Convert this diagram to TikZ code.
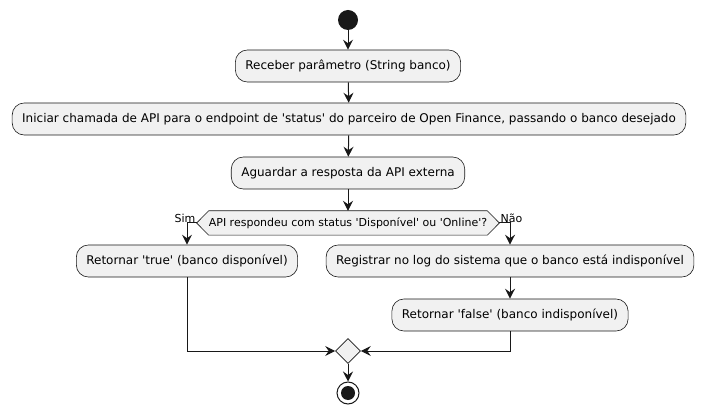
\documentclass[tikz,border=0pt]{standalone}
\usepackage{fontspec}
\setmainfont{DejaVu Sans}[Ligatures=TeXOff]
\usetikzlibrary{arrows.meta,shapes.geometric}
\definecolor{boxfill}{HTML}{F1F1F1}
\definecolor{ink}{HTML}{181818}

\begin{document}
\begin{tikzpicture}[x=1pt,y=1pt,
        act/.style={draw=ink, line width=0.6pt, fill=boxfill, rounded corners=12pt,
            minimum height=32pt, inner xsep=10pt, font=\fontsize{12}{14}\selectfont},
        flow/.style={draw=ink, line width=1pt, -{Stealth[length=10pt,width=10pt,inset=3.5pt]}},
        lbl/.style={font=\fontsize{11}{13}\selectfont, inner sep=1pt}]
    \useasboundingbox (0,0) rectangle (703,415);
    % start and actions
    \node[circle, fill=ink, minimum size=20pt, inner sep=0pt] (start) at (348,395) {};
    \node[act] (recv) at (348,349) {Receber parâmetro (String banco)};
    \node[act] (call) at (349,296) {Iniciar chamada de API para o endpoint de 'status' do parceiro de Open Finance, passando o banco desejado};
    \node[act] (wait) at (348,242) {Aguardar a resposta da API externa};
    % decision
    \node[inner xsep=0pt, minimum height=24pt, font=\fontsize{11}{13}\selectfont] (ask) at (348,192) {API respondeu com status 'Disponível' ou 'Online'?};
    \coordinate (askL) at ([xshift=-12pt]ask.west);
    \coordinate (askR) at ([xshift=12pt]ask.east);
    \draw[draw=ink, line width=0.6pt, fill=boxfill] (askL)--(ask.north west)--(ask.north east)--(askR)--(ask.south east)--(ask.south west)--cycle;
    \node at (ask) {\fontsize{11}{13}\selectfont API respondeu com status 'Disponível' ou 'Online'?};
    \node[act] (yes) at (187,154) {Retornar 'true' (banco disponível)};
    \node[act] (log) at (510,154) {Registrar no log do sistema que o banco está indisponível};
    \node[act] (no) at (510,100) {Retornar 'false' (banco indisponível)};
    % merge and end
    \node[diamond, draw=ink, line width=0.6pt, fill=boxfill, minimum size=25pt, inner sep=0pt] (merge) at (348,64) {};
    \node[circle, draw=ink, line width=1pt, fill=white, minimum size=22pt, inner sep=0pt] (stop) at (348,22) {};
    \node[circle, fill=ink, minimum size=14pt, inner sep=0pt] at (stop) {};
    % connectors
    \draw[flow] (start)--(recv);
    \draw[flow] (recv)--(call);
    \draw[flow] (call)--(wait);
    \draw[flow] (wait)--(ask.north);
    \draw[flow] (askL)-|(yes);
    \draw[flow] (askR)-|(log);
    \draw[flow] (log)--(no);
    \draw[flow] (yes)|-(merge);
    \draw[flow] (no)|-(merge);
    \draw[flow] (merge)--(stop);
    \node[lbl, anchor=south east] (sim) at ([yshift=-1pt]askL) {Sim};
    \node[lbl, anchor=south west] (nao) at ([yshift=-1pt]askR) {Não};
\end{tikzpicture}
\end{document}
